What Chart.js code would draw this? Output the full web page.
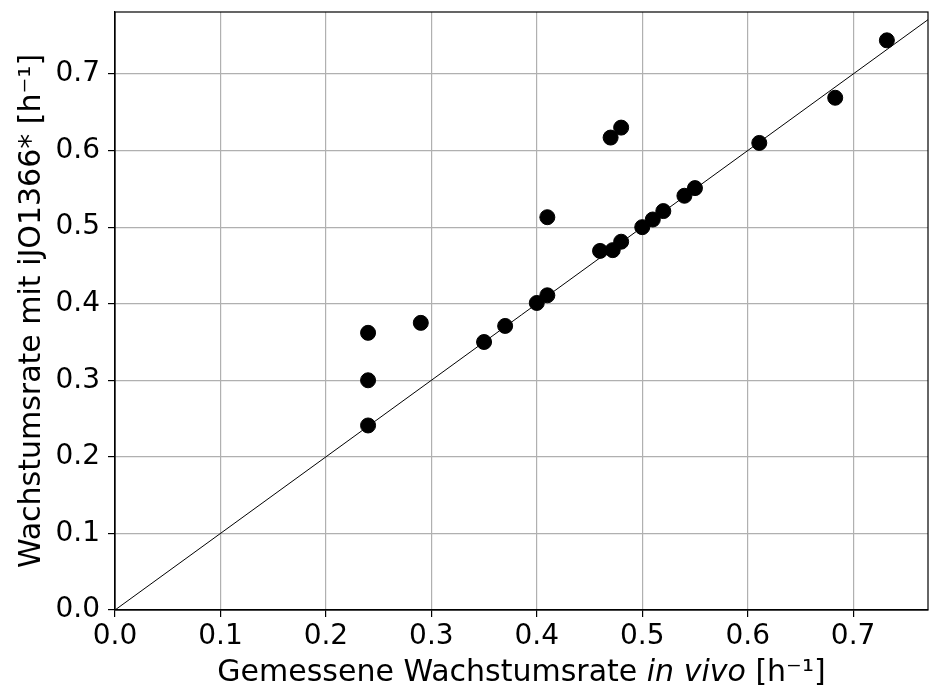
<!DOCTYPE html>
<html>
<head>
<meta charset="utf-8">
<script src="https://cdn.jsdelivr.net/npm/chart.js@4"></script>
<style>
  html, body { margin: 0; padding: 0; background: #fff; }
  #wrap { width: 929px; height: 690px; }
</style>
</head>
<body>
<div id="wrap"><canvas id="growthChart" width="929" height="690"></canvas></div>
<script>
// measured growth rate (in vivo) vs. simulated with iJO1366*
const measured = [0.24, 0.24, 0.24, 0.29, 0.35, 0.37, 0.40, 0.41, 0.41, 0.46, 0.472, 0.48, 0.47, 0.48, 0.50, 0.51, 0.52, 0.54, 0.55, 0.611, 0.683, 0.732];
const simulated = [0.362, 0.300, 0.241, 0.375, 0.350, 0.371, 0.401, 0.411, 0.513, 0.469, 0.470, 0.481, 0.617, 0.630, 0.500, 0.510, 0.521, 0.541, 0.551, 0.610, 0.669, 0.744];
const xTicks = [0.0, 0.1, 0.2, 0.3, 0.4, 0.5, 0.6, 0.7];
const yTicks = [0.0, 0.1, 0.2, 0.3, 0.4, 0.5, 0.6, 0.7];
const xMax = 0.771;
const yMax = 0.781;

const FONT = "'DejaVu Sans', sans-serif";

const points = measured.map((x, i) => ({ x: x, y: simulated[i] }));
const diagonal = [{ x: 0, y: 0 }, { x: xMax, y: xMax }];

function keepTicks(list) {
    return function(scale) {
        scale.ticks = list.map(v => ({ value: v }));
    };
}

function noPadding(scale) {
    scale.paddingLeft = 0;
    scale.paddingRight = 0;
    scale.paddingTop = 0;
    scale.paddingBottom = 0;
}

// top/right spines and the x title with italic "in vivo"
const framePlugin = {
    id: 'frame',
    afterDraw(chart) {
        const ctx = chart.ctx;
        const a = chart.chartArea;
        ctx.save();
        ctx.strokeStyle = '#000';
        ctx.lineWidth = 1.2;
        ctx.strokeRect(a.left, a.top, a.right - a.left, a.bottom - a.top);

        const parts = [
            { t: 'Gemessene Wachstumsrate ', f: '30px ' + FONT },
            { t: 'in vivo', f: 'italic 30px ' + FONT },
            { t: ' [h\u207B\u00B9]', f: '30px ' + FONT }
        ];
        let total = 0;
        parts.forEach(p => { ctx.font = p.f; p.w = ctx.measureText(p.t).width; total += p.w; });
        let x = (a.left + a.right) / 2 - total / 2;
        const y = 673;
        ctx.fillStyle = '#000';
        ctx.textBaseline = 'middle';
        ctx.textAlign = 'left';
        parts.forEach(p => { ctx.font = p.f; ctx.fillText(p.t, x, y); x += p.w; });
        ctx.restore();
    }
};

const ctx = document.getElementById('growthChart').getContext('2d');
const myChart = new Chart(ctx, {
    type: 'scatter',
    data: {
        datasets: [{
            label: 'y = x',
            type: 'line',
            data: diagonal,
            borderColor: '#000',
            borderWidth: 1,
            pointRadius: 0,
            fill: false,
            order: 0
        }, {
            label: 'Wachstumsrate',
            data: points,
            backgroundColor: '#000',
            borderColor: '#000',
            pointRadius: 7.5,
            pointHoverRadius: 7.5,
            order: 1
        }]
    },
    plugins: [framePlugin],
    options: {
        responsive: false,
        animation: false,
        layout: { autoPadding: false, padding: { top: 12, right: 1, left: 0, bottom: 0 } },
        plugins: {
            legend: { display: false },
            tooltip: { enabled: false }
        },
        scales: {
            x: {
                type: 'linear',
                min: 0,
                max: xMax,
                afterBuildTicks: keepTicks(xTicks),
                afterFit(scale) { scale.height = 80; noPadding(scale); },
                grid: { color: '#b0b0b0', lineWidth: 1.2, tickColor: '#000', tickLength: 7 },
                border: { color: '#000', width: 1.2 },
                ticks: {
                    color: '#000',
                    padding: 3,
                    font: { family: FONT, size: 28 },
                    callback: v => v.toFixed(1)
                }
            },
            y: {
                type: 'linear',
                min: 0,
                max: yMax,
                afterBuildTicks: keepTicks(yTicks),
                afterFit(scale) { scale.width = 115; noPadding(scale); },
                grid: { color: '#b0b0b0', lineWidth: 1.2, tickColor: '#000', tickLength: 7 },
                border: { color: '#000', width: 1.2 },
                title: {
                    display: true,
                    text: 'Wachstumsrate mit iJO1366* [h\u207B\u00B9]',
                    color: '#000',
                    font: { family: FONT, size: 30 },
                    padding: { top: 14, bottom: 0 }
                },
                ticks: {
                    color: '#000',
                    padding: 8,
                    font: { family: FONT, size: 28 },
                    callback: v => v.toFixed(1)
                }
            }
        }
    }
});
</script>
</body>
</html>
